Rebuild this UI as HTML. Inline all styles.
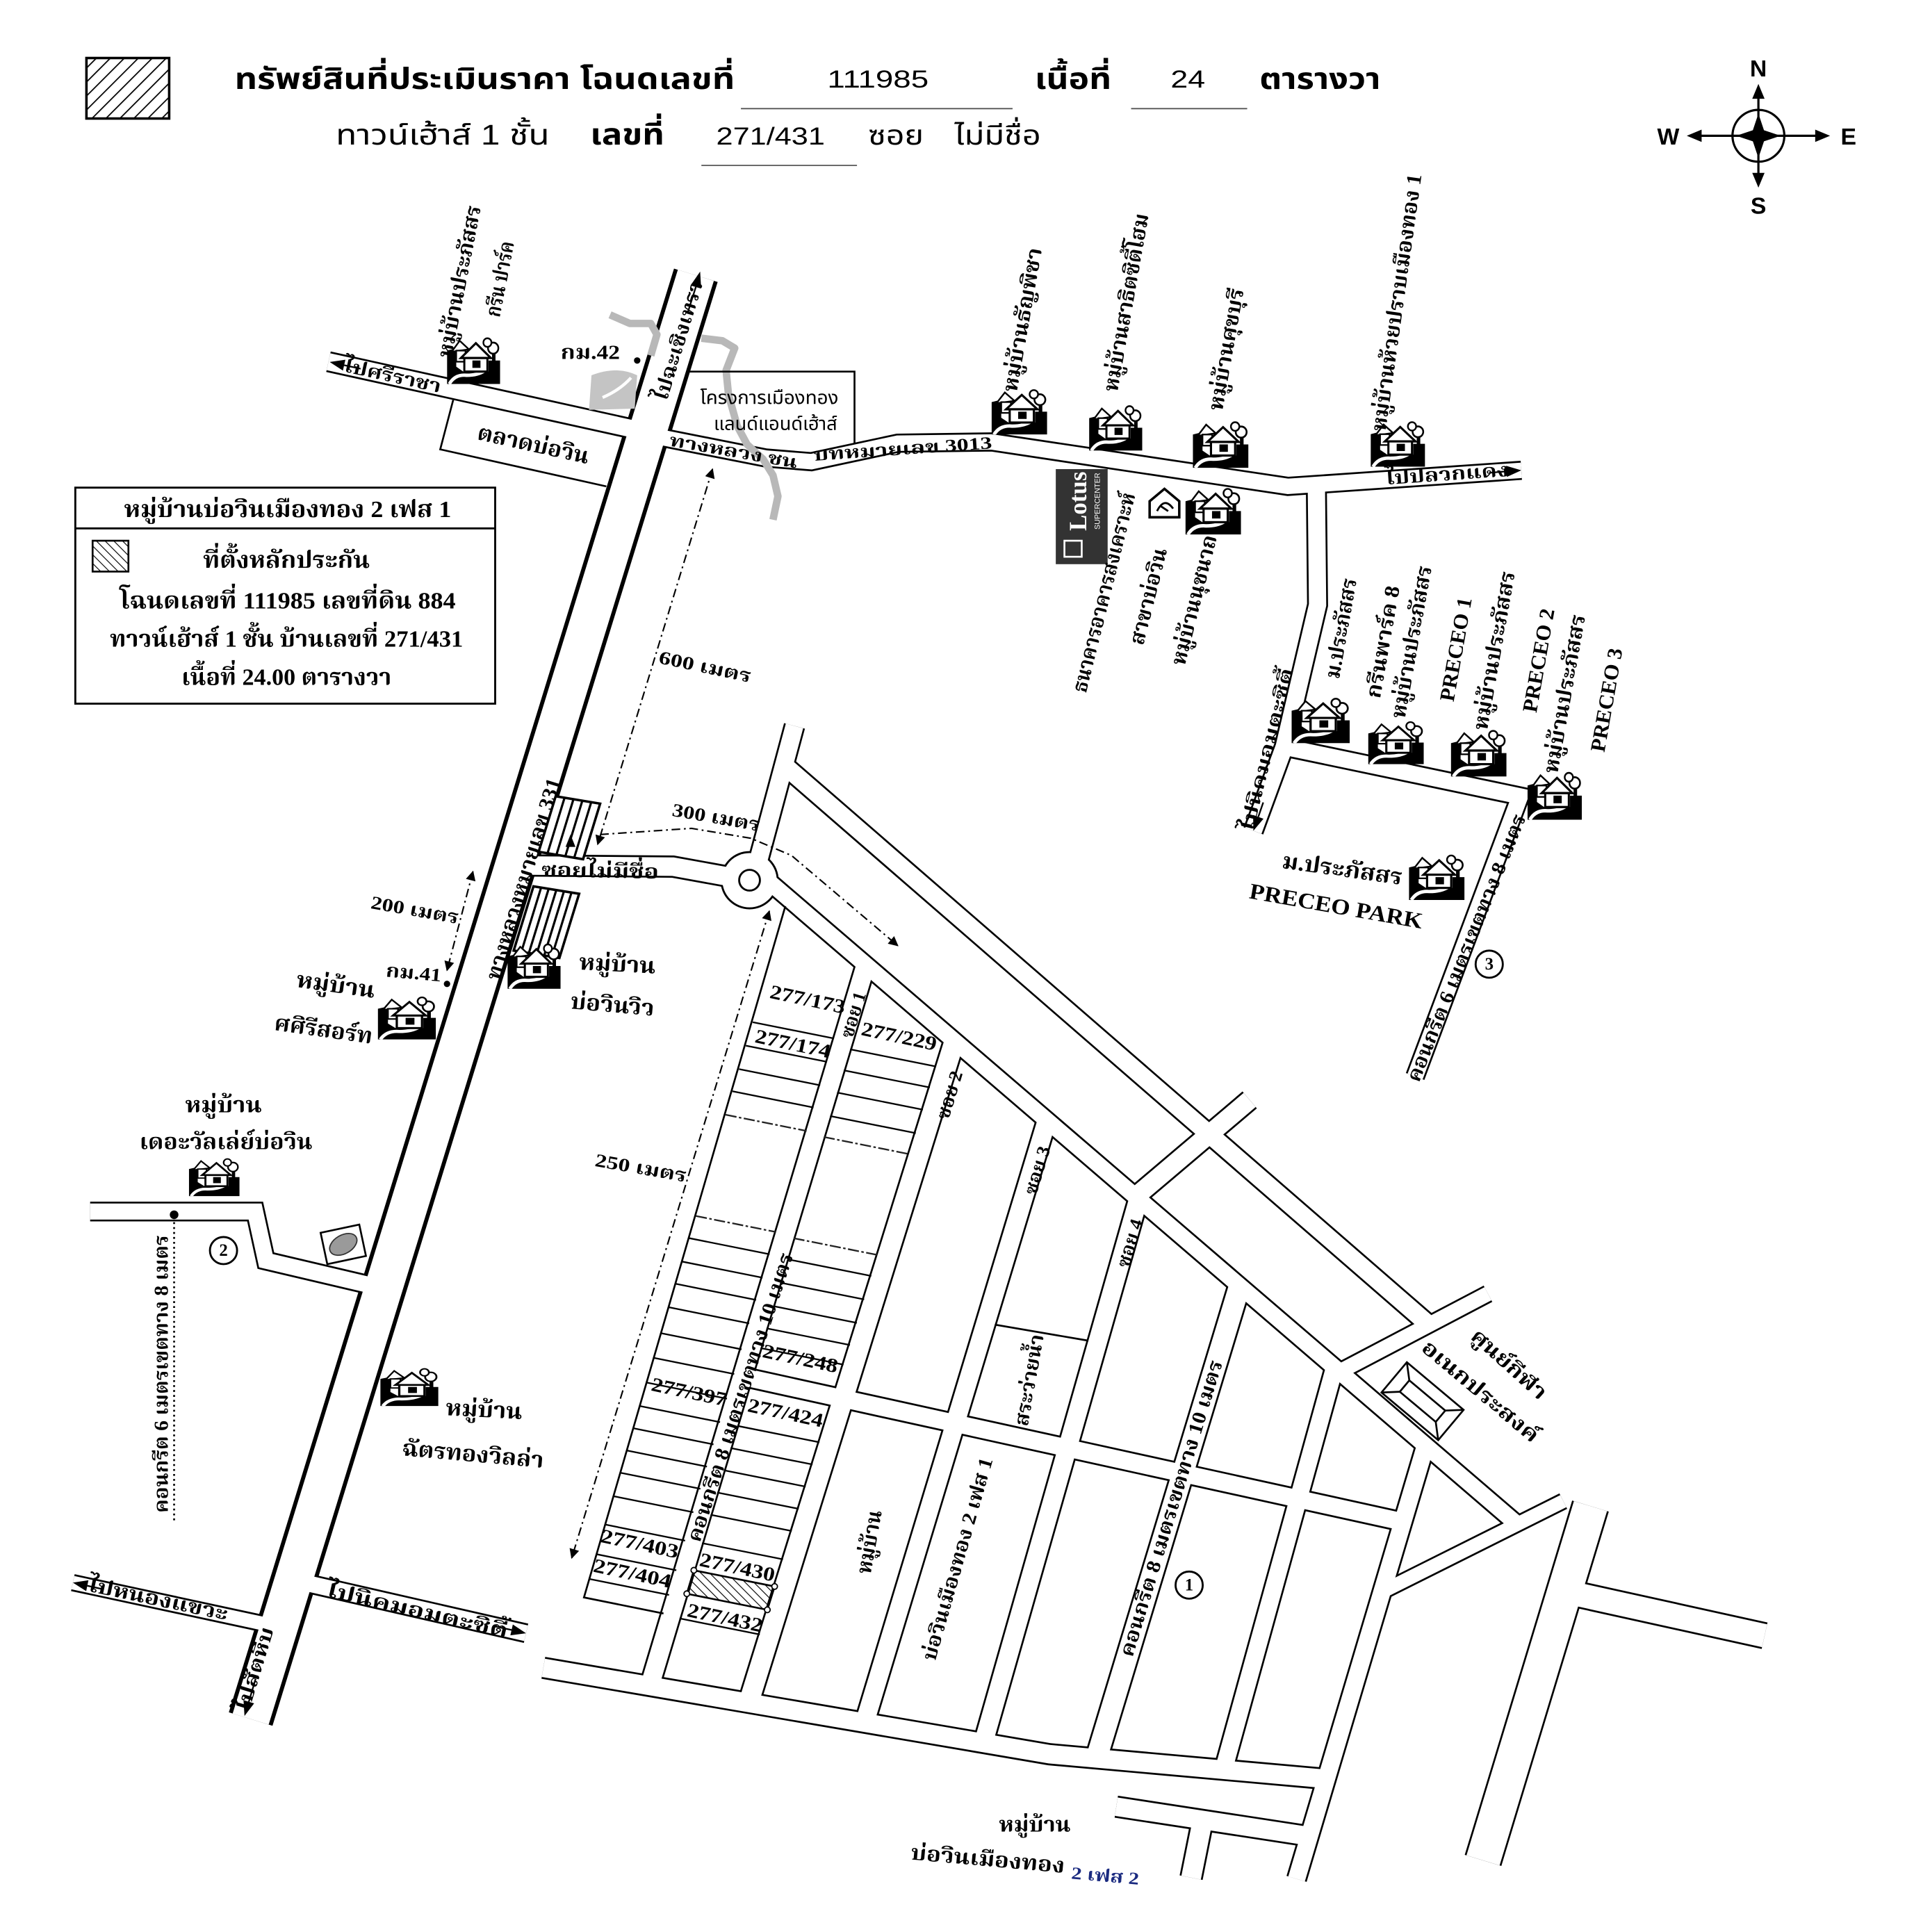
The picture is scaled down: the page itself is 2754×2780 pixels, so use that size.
<!DOCTYPE html>
<html><head><meta charset="utf-8">
<style>
html,body{margin:0;padding:0;background:#fff;}
svg{display:block;}
.s{font-family:"Liberation Serif","Noto Serif Thai","Noto Sans Thai","Norasi","Garuda","Loma","DejaVu Serif",serif;font-weight:bold;}
.a{font-family:"Liberation Sans","Noto Sans Thai","Garuda","Loma","DejaVu Sans",sans-serif;}
</style></head><body>
<svg width="2754" height="2780" viewBox="0 0 1550 1565" preserveAspectRatio="none" xmlns="http://www.w3.org/2000/svg">
<defs>
<pattern id="hf" width="8" height="8" patternUnits="userSpaceOnUse" patternTransform="rotate(45)"><line x1="0" y1="0" x2="0" y2="8" stroke="#000" stroke-width="2"/></pattern>
<pattern id="hb" width="5" height="5" patternUnits="userSpaceOnUse" patternTransform="rotate(-45)"><line x1="0" y1="0" x2="0" y2="5" stroke="#000" stroke-width="1.3"/></pattern>
<marker id="ar" viewBox="0 0 10 10" refX="9" refY="5" markerWidth="10" markerHeight="8" orient="auto-start-reverse" markerUnits="userSpaceOnUse"><path d="M0,0 L10,5 L0,10 z" fill="#000"/></marker>
<symbol id="h" viewBox="0 0 46 38" preserveAspectRatio="none">
<path d="M0,38 L0,11 L8,9 L8,24 L14,28 L36,28 L36,19 L46,19 L46,38 Z" fill="#000"/>
<path d="M2,38 Q7,30 17,31 Q27,31 33,27" stroke="#fff" stroke-width="2.8" fill="none"/>
<polygon points="4,12 11,3 19,10" fill="#fff" stroke="#000" stroke-width="1.4"/>
<rect x="8" y="11" width="8" height="9" fill="#fff" stroke="#000" stroke-width="1.3"/>
<circle cx="40" cy="9" r="4.5" fill="#fff" stroke="#000" stroke-width="1.5"/>
<circle cx="35" cy="4.5" r="3.5" fill="#fff" stroke="#000" stroke-width="1.4"/>
<rect x="39" y="13" width="3" height="7" fill="#000"/>
<polygon points="12,17 25,5 38,17" fill="#fff" stroke="#000" stroke-width="1.8"/>
<rect x="15" y="17" width="20" height="11" fill="#fff" stroke="#000" stroke-width="1.8"/>
<rect x="22" y="19" width="7" height="6" fill="#000"/>
</symbol>
</defs>

<!-- ROAD CASINGS (black) -->
<g fill="none" stroke="#000" stroke-linejoin="miter" stroke-linecap="butt">
<path d="M563.5,223 L203,1392.5" stroke-width="37"/>
<path d="M266,293 L524,350" stroke-width="17"/>
<path d="M524,352 L620,371 L657,374 L727,359 L803,358 L1043,394 L1232,381" stroke-width="15.5"/>
<path d="M1066,392 L1067,490 L1040,605 L1015,673" stroke-width="17"/>
<path d="M1040,605 L1231,645 L1146,872" stroke-width="16"/>
<path d="M416,701 L545,702 L600,712" stroke-width="18"/>
<path d="M643.4,588 L612,705" stroke-width="17.5"/>
<path d="M634,619 L1157,1073" stroke-width="17.4"/>
<path d="M612,705 L1229,1235" stroke-width="16"/>
<path d="M1012,891 L920,969" stroke-width="18"/>
<path d="M1085,1111 L1205,1048" stroke-width="15"/>
<path d="M1266,1216 L1120,1289" stroke-width="14"/>
<path d="M1288,1220 L1201,1507" stroke-width="31"/>
<path d="M1266,1289 L1429,1325" stroke-width="22"/>
<path d="M601,1115 L1137,1233" stroke-width="17"/>
<path d="M701,782 L526,1366" stroke-width="18"/>
<path d="M773,843 L606,1380" stroke-width="19"/>
<path d="M848,907 L700,1396" stroke-width="18"/>
<path d="M922,971 L796,1413" stroke-width="18"/>
<path d="M1004,1041 L888,1424" stroke-width="20"/>
<path d="M1081,1107 L991,1433" stroke-width="17"/>
<path d="M1155,1169 L1050,1522" stroke-width="17"/>
<path d="M440,1351 L850,1421 L1074,1441" stroke-width="18"/>
<path d="M904,1463.5 L1060,1487.4" stroke-width="18"/>
<path d="M974,1474 L964.6,1521" stroke-width="19"/>
<path d="M237.7,1280 L426,1323" stroke-width="16"/>
<path d="M59,1282 L226,1318" stroke-width="14"/>
<path d="M73,981.4 L206.6,981.4 L215.3,1021.2 L310.6,1043.6" stroke-width="16"/>
</g>
<circle cx="607" cy="713" r="23.6" fill="#000"/>

<!-- ROAD INTERIORS (white) -->
<g fill="none" stroke="#fff" stroke-linejoin="miter" stroke-linecap="butt">
<path d="M563.5,223 L203,1392.5" stroke-width="30.5"/>
<path d="M266,293 L524,350" stroke-width="14"/>
<path d="M524,352 L620,371 L657,374 L727,359 L803,358 L1043,394 L1232,381" stroke-width="12.5"/>
<path d="M1066,392 L1067,490 L1040,605 L1015,673" stroke-width="14"/>
<path d="M1040,605 L1231,645 L1146,872" stroke-width="13"/>
<path d="M416,701 L545,702 L600,712" stroke-width="15"/>
<path d="M643.4,588 L612,705" stroke-width="14.5"/>
<path d="M634,619 L1157,1073" stroke-width="14.4"/>
<path d="M612,705 L1229,1235" stroke-width="13"/>
<path d="M1012,891 L920,969" stroke-width="15"/>
<path d="M1085,1111 L1205,1048" stroke-width="12"/>
<path d="M1266,1216 L1120,1289" stroke-width="11"/>
<path d="M1288,1220 L1201,1507" stroke-width="28"/>
<path d="M1266,1289 L1429,1325" stroke-width="19"/>
<path d="M601,1115 L1137,1233" stroke-width="14"/>
<path d="M701,782 L526,1366" stroke-width="15"/>
<path d="M773,843 L606,1380" stroke-width="16"/>
<path d="M848,907 L700,1396" stroke-width="15"/>
<path d="M922,971 L796,1413" stroke-width="15"/>
<path d="M1004,1041 L888,1424" stroke-width="17"/>
<path d="M1081,1107 L991,1433" stroke-width="14"/>
<path d="M1155,1169 L1050,1522" stroke-width="14"/>
<path d="M440,1351 L850,1421 L1074,1441" stroke-width="15"/>
<path d="M904,1463.5 L1060,1487.4" stroke-width="15"/>
<path d="M974,1474 L964.6,1521" stroke-width="16"/>
<path d="M237.7,1280 L426,1323" stroke-width="13"/>
<path d="M59,1282 L226,1318" stroke-width="11"/>
<path d="M73,981.4 L206.6,981.4 L215.3,1021.2 L310.6,1043.6" stroke-width="13"/>
</g>
<circle cx="607" cy="713" r="22" fill="#fff"/>
<circle cx="607" cy="713" r="8.4" fill="#fff" stroke="#000" stroke-width="1.6"/>

<!-- gray river -->
<g fill="none" stroke="#b8b8b8" stroke-width="6" stroke-linejoin="round">
<path d="M494,255 L510,262 L527,262 L532,271 L527,288"/>
<path d="M568,274 L585,276 L595,282 L588,300 L590,320 L597,345 L605,360 L618,372 L626,385 L630,402 L626,421"/>
</g>
<path d="M479,304 Q500,296 516,304 L514,331 L477,332 Z" fill="#c4c4c4"/>
<path d="M488,322 Q502,316 511,306" stroke="#fff" stroke-width="2.5" fill="none"/>

<!-- extra lines: boxes, blocks, lots -->
<g fill="none" stroke="#000" stroke-width="1.5">
<path d="M367,324 L356.5,364 L491,394"/>
<path d="M557,301 L692,301 L692,360"/>
<path d="M636,734 L472.9,1294 L537.3,1307"/>
<path d="M805.6,1073 L881.4,1086"/>
</g>
<g fill="none" stroke="#000" stroke-width="1.3">
<path d="M609.6,828 L675.4,841.2 M604,847 L669.7,860.1 M598.5,866 L664.2,879.1 M593.2,884 L658.8,897.1"/>
<path d="M558.3,1003 L623.2,1016 M552.7,1022 L617.5,1035 M547.5,1040 L612.3,1053 M541.9,1059 L606.7,1072 M535.7,1080 L600.5,1093 M529.9,1100 L594.6,1113 M524,1120 L588.7,1133 M518.4,1139 L583.1,1152 M513.2,1157 L577.8,1170 M507.9,1175 L572.5,1188 M502.6,1193 L567.2,1206 M497,1212 L561.5,1225 M490.3,1235 L554.8,1248 M483.2,1259 L547.7,1272 M477.3,1279 L541.8,1292"/>
<path d="M688.4,850 L758.1,863.9 M683.3,867 L753,880.9 M677.9,885 L747.4,898.9 M672.2,904 L741.6,917.9"/>
<path d="M637.5,1020 L705.6,1033.6 M631.8,1039 L699.8,1052.6 M626.1,1058 L693.9,1071.6 M620.7,1076 L688.3,1089.5 M615.9,1092 L683.1,1105.4"/>
<path d="M597,1155 L663.6,1168.3 M591.6,1173 L658,1186.3 M586.2,1191 L652.4,1204.2 M580.8,1209 L646.8,1222.2 M575.4,1227 L641.2,1240.2 M568.5,1250 L634.1,1263.1 M550.3,1311 L615.3,1324"/>
</g>
<g fill="none" stroke="#222" stroke-width="1.3" stroke-dasharray="9 2 2 2">
<path d="M587.6,903 L653.2,916.1 M563.6,985 L628.5,998 M667.1,921 L736,934.8 M642.6,1003 L710.8,1016.6"/>
</g>
<polygon points="561.9,1272 627.3,1285.1 621.4,1304 556.2,1291" fill="url(#hb)" stroke="#000" stroke-width="1.5"/>
<g fill="#fff" stroke="#000" stroke-width="1">
<circle cx="561.9" cy="1272" r="2.3"/><circle cx="627.3" cy="1285.1" r="2.3"/><circle cx="621.4" cy="1304" r="2.3"/><circle cx="556.2" cy="1291" r="2.3"/>
</g>

<!-- zebra crossings -->
<g fill="#fff" stroke="#000" stroke-width="2">
<polygon points="450,645 486,651 472.2,696 436.2,690"/>
<polygon points="432,718 469,724 453,776 416,770"/>
</g>
<g stroke="#000" stroke-width="1.8">
<path d="M457.2,646.2 L443.4,691.2 M464.4,647.4 L450.6,692.4 M471.6,648.6 L457.8,693.6 M478.8,649.8 L465,694.8"/>
<path d="M438.2,719 L422.2,771 M444.3,720 L428.3,772 M450.5,721 L434.5,773 M456.7,722 L440.7,774 M462.8,723 L446.8,775"/>
</g>

<!-- road end arrows -->
<g fill="#000">
<polygon points="567,220 567.8,233.8 559.2,231.2"/>
<polygon points="198,1390 205.8,1379.8 197.2,1377.2"/>
<polygon points="267,293.2 279.7,291.4 277.7,300.2"/>
<polygon points="1232,381 1220.3,386.3 1219.7,377.3"/>
<polygon points="1015,673 1023.2,663.2 1014.8,660.2"/>
<polygon points="59,1282 71.6,1280.1 69.8,1288.9"/>
<polygon points="426,1323 413.3,1324.7 415.3,1315.9"/>
<polygon points="462,676 466,686 458,686"/>
</g>
<g stroke="#000" stroke-width="1.3">
<path d="M563.5,232.5 L557,253"/><path d="M201.5,1378.5 L207,1360"/>
<path d="M278.7,295.8 L292,298.7"/><path d="M1220,381.8 L1206,383"/>
<path d="M1019,661.7 L1023,650"/><path d="M70.7,1284.5 L84,1287.5"/><path d="M414.3,1320.3 L401,1317.5"/>
</g>

<!-- dashed distance lines -->
<g fill="none" stroke="#000" stroke-width="1.2" stroke-dasharray="7 3 1.5 3">
<path d="M577,380 L484,684" marker-start="url(#ar)" marker-end="url(#ar)"/>
<path d="M486,676 L560,671 L608,679 L641,693 L727,766" marker-end="url(#ar)"/>
<path d="M383,706 L362,786" marker-start="url(#ar)" marker-end="url(#ar)"/>
<path d="M623,738 L463,1262" marker-start="url(#ar)" marker-end="url(#ar)"/>
</g>
<path d="M141,986 L141,1232" stroke="#000" stroke-width="1.5" stroke-dasharray="1.5 2.5"/>
<circle cx="141" cy="984" r="3.5" fill="#000"/>
<circle cx="516" cy="292" r="2.6" fill="#000"/>
<circle cx="362" cy="797" r="2.6" fill="#000"/>

<!-- number circles -->
<g fill="#fff" stroke="#000" stroke-width="1.6">
<circle cx="181" cy="1013" r="11"/><circle cx="1206" cy="781" r="11"/><circle cx="963" cy="1284" r="11"/>
</g>
<g class="s" font-size="14" text-anchor="middle" dominant-baseline="central">
<text x="181" y="1013">2</text><text x="1206" y="781">3</text><text x="963" y="1284">1</text>
</g>

<!-- house icons -->
<use href="#h" x="362" y="273" width="43" height="38"/>
<use href="#h" x="803" y="315" width="45" height="37"/>
<use href="#h" x="882" y="328" width="43" height="37"/>
<use href="#h" x="966" y="341" width="45" height="38"/>
<use href="#h" x="1110" y="341" width="44" height="37"/>
<use href="#h" x="960" y="395" width="45" height="38"/>
<use href="#h" x="1046" y="565" width="47" height="37"/>
<use href="#h" x="1108" y="584" width="45" height="35"/>
<use href="#h" x="1175" y="591" width="45" height="38"/>
<use href="#h" x="1237" y="625" width="44" height="39"/>
<use href="#h" x="1141" y="692" width="45" height="37"/>
<use href="#h" x="411" y="764" width="43" height="37"/>
<use href="#h" x="306" y="807" width="47" height="35"/>
<use href="#h" x="153" y="938" width="41" height="31"/>
<use href="#h" x="308" y="1108" width="47" height="31"/>

<!-- Lotus logo -->
<rect x="855" y="380" width="42" height="77" fill="#333"/>
<text class="s" font-size="20" fill="#fff" text-anchor="middle" dominant-baseline="central" textLength="48" lengthAdjust="spacingAndGlyphs" transform="translate(873 406) rotate(-90)">Lotus</text>
<text class="a" font-size="6" fill="#fff" text-anchor="middle" dominant-baseline="central" textLength="46" lengthAdjust="spacingAndGlyphs" transform="translate(889 406) rotate(-90)">SUPERCENTER</text>
<rect x="862" y="438" width="14" height="13" fill="none" stroke="#fff" stroke-width="1.5"/>
<!-- bank icon -->
<path d="M931,406 L943,396 L955,406 L955,419 L931,419 Z" fill="#fff" stroke="#000" stroke-width="2"/>
<path d="M937,414 Q943,402 950,412 M940,410 L946,414" fill="none" stroke="#000" stroke-width="1.6"/>
<!-- sports building -->
<g transform="translate(1152 1135) rotate(40)" fill="#fff" stroke="#000" stroke-width="1.5">
<rect x="-30" y="-16" width="60" height="32"/>
<rect x="-19" y="-6" width="38" height="12" fill="none"/>
<path d="M-30,-16 L-19,-6 M30,-16 L19,-6 M30,16 L19,6 M-30,16 L-19,6" fill="none"/>
</g>
<!-- leaf icon -->
<rect x="262" y="995" width="32" height="26" fill="#fff" stroke="#000" stroke-width="1.5" transform="rotate(-12 278 1008)"/>
<ellipse cx="278" cy="1008" rx="12" ry="7.5" fill="#9a9a9a" stroke="#333" transform="rotate(-30 278 1008)"/>

<!-- compass -->
<g stroke="#000" stroke-width="1.8" fill="none">
<path d="M1372,110 L1476,110 M1424,72 L1424,148"/>
<circle cx="1424" cy="110" r="21"/>
</g>
<g fill="#000">
<polygon points="1424,92 1428.5,105.5 1442,110 1428.5,114.5 1424,128 1419.5,114.5 1406,110 1419.5,105.5"/>
<polygon points="1424,68 1429,80 1419,80"/>
<polygon points="1424,152 1429,140 1419,140"/>
<polygon points="1366,110 1378,105 1378,115"/>
<polygon points="1482,110 1470,105 1470,115"/>
</g>
<g class="a" font-weight="bold" font-size="19" text-anchor="middle">
<text x="1424" y="62">N</text><text x="1424" y="173">S</text><text x="1351" y="117">W</text><text x="1497" y="117">E</text>
</g>

<!-- header -->
<rect x="70" y="47" width="67" height="49" fill="url(#hf)" stroke="#000" stroke-width="2"/>
<g class="a">
<text x="190" y="72" font-size="24" font-weight="bold" textLength="405" lengthAdjust="spacingAndGlyphs">ทรัพย์สินที่ประเมินราคา โฉนดเลขที่</text>
<text x="670" y="71" font-size="20" textLength="82" lengthAdjust="spacingAndGlyphs">111985</text>
<text x="838" y="72" font-size="24" font-weight="bold" textLength="62" lengthAdjust="spacingAndGlyphs">เนื้อที่</text>
<text x="948" y="71" font-size="20" textLength="28" lengthAdjust="spacingAndGlyphs">24</text>
<text x="1020" y="72" font-size="24" font-weight="bold" textLength="98" lengthAdjust="spacingAndGlyphs">ตารางวา</text>
<text x="272" y="117" font-size="23" textLength="173" lengthAdjust="spacingAndGlyphs">ทาวน์เฮ้าส์ 1 ชั้น</text>
<text x="478" y="117" font-size="24" font-weight="bold" textLength="60" lengthAdjust="spacingAndGlyphs">เลขที่</text>
<text x="580" y="117" font-size="20" textLength="88" lengthAdjust="spacingAndGlyphs">271/431</text>
<text x="703" y="117" font-size="22" textLength="45" lengthAdjust="spacingAndGlyphs">ซอย</text>
<text x="773" y="117" font-size="22" textLength="70" lengthAdjust="spacingAndGlyphs">ไม่มีชื่อ</text>
</g>
<g stroke="#555" stroke-width="1">
<path d="M600,88 L820,88 M916,88 L1010,88 M568,134 L694,134"/>
</g>

<!-- legend -->
<rect x="61" y="395" width="340" height="175" fill="#fff" stroke="#000" stroke-width="1.6"/>
<path d="M61,428 L401,428" stroke="#000" stroke-width="1.6"/>
<rect x="75" y="438" width="29" height="25" fill="url(#hb)" stroke="#000" stroke-width="1.5"/>
<g class="s" font-size="19" text-anchor="middle" dominant-baseline="central">
<text x="233" y="413" textLength="265" lengthAdjust="spacingAndGlyphs">หมู่บ้านบ่อวินเมืองทอง 2 เฟส 1</text>
<text x="232" y="454" textLength="135" lengthAdjust="spacingAndGlyphs">ที่ตั้งหลักประกัน</text>
<text x="233" y="487" textLength="272" lengthAdjust="spacingAndGlyphs">โฉนดเลขที่ 111985 เลขที่ดิน 884</text>
<text x="232" y="518" textLength="286" lengthAdjust="spacingAndGlyphs">ทาวน์เฮ้าส์ 1 ชั้น บ้านเลขที่ 271/431</text>
<text x="232" y="549" textLength="170" lengthAdjust="spacingAndGlyphs">เนื้อที่ 24.00 ตารางวา</text>
</g>

<!-- map labels -->
<g class="s" text-anchor="middle" dominant-baseline="central" font-size="17">
<text font-size="15" textLength="80" lengthAdjust="spacingAndGlyphs" transform="translate(318 304.5) rotate(12.5)">ไปศรีราชา</text>
<text textLength="125" lengthAdjust="spacingAndGlyphs" transform="translate(372 228) rotate(-79)">หมู่บ้านประภัสสร</text>
<text textLength="62" lengthAdjust="spacingAndGlyphs" transform="translate(405 226) rotate(-79)">กรีน ปาร์ค</text>
<text font-size="18" textLength="92" lengthAdjust="spacingAndGlyphs" transform="translate(432 360) rotate(12.5)">ตลาดบ่อวิน</text>
<text font-size="16" textLength="48" lengthAdjust="spacingAndGlyphs" transform="translate(478 286)">กม.42</text>
<text font-size="16" textLength="100" lengthAdjust="spacingAndGlyphs" transform="translate(550 276) rotate(-73)">ไปฉะเชิงเทรา</text>
<text font-size="14" textLength="105" lengthAdjust="spacingAndGlyphs" transform="translate(594 366) rotate(10)">ทางหลวง ชน</text>
<text font-size="14" textLength="145" lengthAdjust="spacingAndGlyphs" transform="translate(731 364) rotate(-4)">บทหมายเลข 3013</text>
<text font-size="15" textLength="100" lengthAdjust="spacingAndGlyphs" transform="translate(1172 384) rotate(-4)">ไปปลวกแดง</text>
<text textLength="118" lengthAdjust="spacingAndGlyphs" transform="translate(828 259) rotate(-80)">หมู่บ้านธัญพิชา</text>
<text textLength="146" lengthAdjust="spacingAndGlyphs" transform="translate(912 245) rotate(-80)">หมู่บ้านสาธิตซิตี้โฮม</text>
<text textLength="100" lengthAdjust="spacingAndGlyphs" transform="translate(993 283) rotate(-80)">หมู่บ้านศุขบุรี</text>
<text textLength="210" lengthAdjust="spacingAndGlyphs" transform="translate(1131 245) rotate(-82)">หมู่บ้านห้วยปราบเมืองทอง 1</text>
<text textLength="166" lengthAdjust="spacingAndGlyphs" transform="translate(894 480) rotate(-76)">ธนาคารอาคารสงเคราะห์</text>
<text textLength="80" lengthAdjust="spacingAndGlyphs" transform="translate(930 483) rotate(-76)">สาขาบ่อวิน</text>
<text textLength="108" lengthAdjust="spacingAndGlyphs" transform="translate(967 486) rotate(-76)">หมู่บ้านนุชนาถ</text>
<text textLength="82" lengthAdjust="spacingAndGlyphs" transform="translate(1086 509) rotate(-80)">ม.ประภัสสร</text>
<text textLength="92" lengthAdjust="spacingAndGlyphs" transform="translate(1120 520) rotate(-80)">กรีนพาร์ค 8</text>
<text textLength="125" lengthAdjust="spacingAndGlyphs" transform="translate(1143 520) rotate(-80)">หมู่บ้านประภัสสร</text>
<text textLength="85" lengthAdjust="spacingAndGlyphs" transform="translate(1179 526) rotate(-80)">PRECEO 1</text>
<text textLength="130" lengthAdjust="spacingAndGlyphs" transform="translate(1210 527) rotate(-80)">หมู่บ้านประภัสสร</text>
<text textLength="85" lengthAdjust="spacingAndGlyphs" transform="translate(1246 535) rotate(-80)">PRECEO 2</text>
<text textLength="130" lengthAdjust="spacingAndGlyphs" transform="translate(1267 562) rotate(-80)">หมู่บ้านประภัสสร</text>
<text textLength="85" lengthAdjust="spacingAndGlyphs" transform="translate(1301 567) rotate(-80)">PRECEO 3</text>
<text font-size="15" textLength="135" lengthAdjust="spacingAndGlyphs" transform="translate(1026 607) rotate(-76)">ไปนิคมอมตะซิตี้</text>
<text font-size="18" textLength="98" lengthAdjust="spacingAndGlyphs" transform="translate(1087 704) rotate(8)">ม.ประภัสสร</text>
<text font-size="18" textLength="142" lengthAdjust="spacingAndGlyphs" transform="translate(1082 734) rotate(10)">PRECEO PARK</text>
<text font-size="16" textLength="232" lengthAdjust="spacingAndGlyphs" transform="translate(1188 768) rotate(-68)">คอนกรีต 6 เมตรเขตทาง 8 เมตร</text>
<text font-size="16" textLength="95" lengthAdjust="spacingAndGlyphs" transform="translate(486 706) rotate(1)">ซอยไม่มีชื่อ</text>
<text textLength="170" lengthAdjust="spacingAndGlyphs" transform="translate(424 712) rotate(-73)">ทางหลวงหมายเลข 331</text>
<text font-size="15" textLength="72" lengthAdjust="spacingAndGlyphs" transform="translate(580 662) rotate(10)">300 เมตร</text>
<text font-size="15" textLength="76" lengthAdjust="spacingAndGlyphs" transform="translate(571 540) rotate(12)">600 เมตร</text>
<text font-size="15" textLength="72" lengthAdjust="spacingAndGlyphs" transform="translate(336 737) rotate(10)">200 เมตร</text>
<text font-size="15" textLength="45" lengthAdjust="spacingAndGlyphs" transform="translate(335 788) rotate(5)">กม.41</text>
<text font-size="18" textLength="62" lengthAdjust="spacingAndGlyphs" transform="translate(500 781) rotate(3)">หมู่บ้าน</text>
<text font-size="18" textLength="68" lengthAdjust="spacingAndGlyphs" transform="translate(496 814) rotate(5)">บ่อวินวิว</text>
<text font-size="18" textLength="64" lengthAdjust="spacingAndGlyphs" transform="translate(272 798) rotate(8)">หมู่บ้าน</text>
<text font-size="18" textLength="80" lengthAdjust="spacingAndGlyphs" transform="translate(262 834) rotate(8)">ศศิรีสอร์ท</text>
<text font-size="18" textLength="62" lengthAdjust="spacingAndGlyphs" transform="translate(181 895)">หมู่บ้าน</text>
<text font-size="18" textLength="140" lengthAdjust="spacingAndGlyphs" transform="translate(183 925)">เดอะวัลเล่ย์บ่อวิน</text>
<text font-size="16" textLength="225" lengthAdjust="spacingAndGlyphs" transform="translate(131 1113) rotate(-90)">คอนกรีต 6 เมตรเขตทาง 8 เมตร</text>
<text font-size="18" textLength="62" lengthAdjust="spacingAndGlyphs" transform="translate(392 1142) rotate(3)">หมู่บ้าน</text>
<text font-size="18" textLength="115" lengthAdjust="spacingAndGlyphs" transform="translate(383 1178) rotate(5)">ฉัตรทองวิลล่า</text>
<text font-size="16" textLength="115" lengthAdjust="spacingAndGlyphs" transform="translate(128 1296) rotate(12)">ไปหนองแขวะ</text>
<text font-size="16" textLength="150" lengthAdjust="spacingAndGlyphs" transform="translate(338 1305) rotate(13)">ไปนิคมอมตะซิตี้</text>
<text font-size="16" textLength="70" lengthAdjust="spacingAndGlyphs" transform="translate(207 1352) rotate(-73)">ไปสัตหีบ</text>
<text font-size="15" textLength="75" lengthAdjust="spacingAndGlyphs" transform="translate(519 946) rotate(10)">250 เมตร</text>
<text font-size="16" textLength="62" lengthAdjust="spacingAndGlyphs" transform="translate(654 810) rotate(12)">277/173</text>
<text font-size="16" textLength="62" lengthAdjust="spacingAndGlyphs" transform="translate(642 846) rotate(12)">277/174</text>
<text font-size="16" textLength="62" lengthAdjust="spacingAndGlyphs" transform="translate(728 840) rotate(12)">277/229</text>
<text font-size="16" textLength="62" lengthAdjust="spacingAndGlyphs" transform="translate(648 1101) rotate(12)">277/248</text>
<text font-size="16" textLength="62" lengthAdjust="spacingAndGlyphs" transform="translate(558 1128) rotate(12)">277/397</text>
<text font-size="16" textLength="62" lengthAdjust="spacingAndGlyphs" transform="translate(636 1145) rotate(12)">277/424</text>
<text font-size="16" textLength="64" lengthAdjust="spacingAndGlyphs" transform="translate(518 1251) rotate(12)">277/403</text>
<text font-size="16" textLength="64" lengthAdjust="spacingAndGlyphs" transform="translate(512 1275) rotate(12)">277/404</text>
<text font-size="16" textLength="62" lengthAdjust="spacingAndGlyphs" transform="translate(597 1270) rotate(12)">277/430</text>
<text font-size="16" textLength="62" lengthAdjust="spacingAndGlyphs" transform="translate(587 1311) rotate(12)">277/432</text>
<text font-size="15" textLength="38" lengthAdjust="spacingAndGlyphs" transform="translate(691 822) rotate(-73)">ซอย 1</text>
<text font-size="15" textLength="40" lengthAdjust="spacingAndGlyphs" transform="translate(769 887) rotate(-73)">ซอย 2</text>
<text font-size="15" textLength="40" lengthAdjust="spacingAndGlyphs" transform="translate(840 948) rotate(-73)">ซอย 3</text>
<text font-size="15" textLength="40" lengthAdjust="spacingAndGlyphs" transform="translate(915 1007) rotate(-73)">ซอย 4</text>
<text font-size="16" textLength="245" lengthAdjust="spacingAndGlyphs" transform="translate(600 1132) rotate(-72)">คอนกรีต 8 เมตรเขตทาง 10 เมตร</text>
<text font-size="16" textLength="250" lengthAdjust="spacingAndGlyphs" transform="translate(949 1222) rotate(-73)">คอนกรีต 8 เมตรเขตทาง 10 เมตร</text>
<text font-size="16" textLength="75" lengthAdjust="spacingAndGlyphs" transform="translate(834 1118) rotate(-80)">สระว่ายน้ำ</text>
<text textLength="52" lengthAdjust="spacingAndGlyphs" transform="translate(704 1249) rotate(-80)">หมู่บ้าน</text>
<text font-size="16" textLength="170" lengthAdjust="spacingAndGlyphs" transform="translate(776 1263) rotate(-74)">บ่อวินเมืองทอง 2 เฟส 1</text>
<text textLength="76" lengthAdjust="spacingAndGlyphs" transform="translate(1222 1105) rotate(42)">ศูนย์กีฬา</text>
<text textLength="118" lengthAdjust="spacingAndGlyphs" transform="translate(1199 1127) rotate(40)">อเนกประสงค์</text>
<text textLength="58" lengthAdjust="spacingAndGlyphs" transform="translate(838 1478)">หมู่บ้าน</text>
<text textLength="125" lengthAdjust="spacingAndGlyphs" transform="translate(800 1506) rotate(5)">บ่อวินเมืองทอง</text>
<text font-size="14" fill="#1a2a80" textLength="55" lengthAdjust="spacingAndGlyphs" transform="translate(895 1520) rotate(5)">2 เฟส 2</text>
</g>
<g class="a" text-anchor="middle" dominant-baseline="central" font-size="15">
<text textLength="112" lengthAdjust="spacingAndGlyphs" transform="translate(623 322)">โครงการเมืองทอง</text>
<text textLength="100" lengthAdjust="spacingAndGlyphs" transform="translate(628 343)">แลนด์แอนด์เฮ้าส์</text>
</g>
</svg>
</body></html>
